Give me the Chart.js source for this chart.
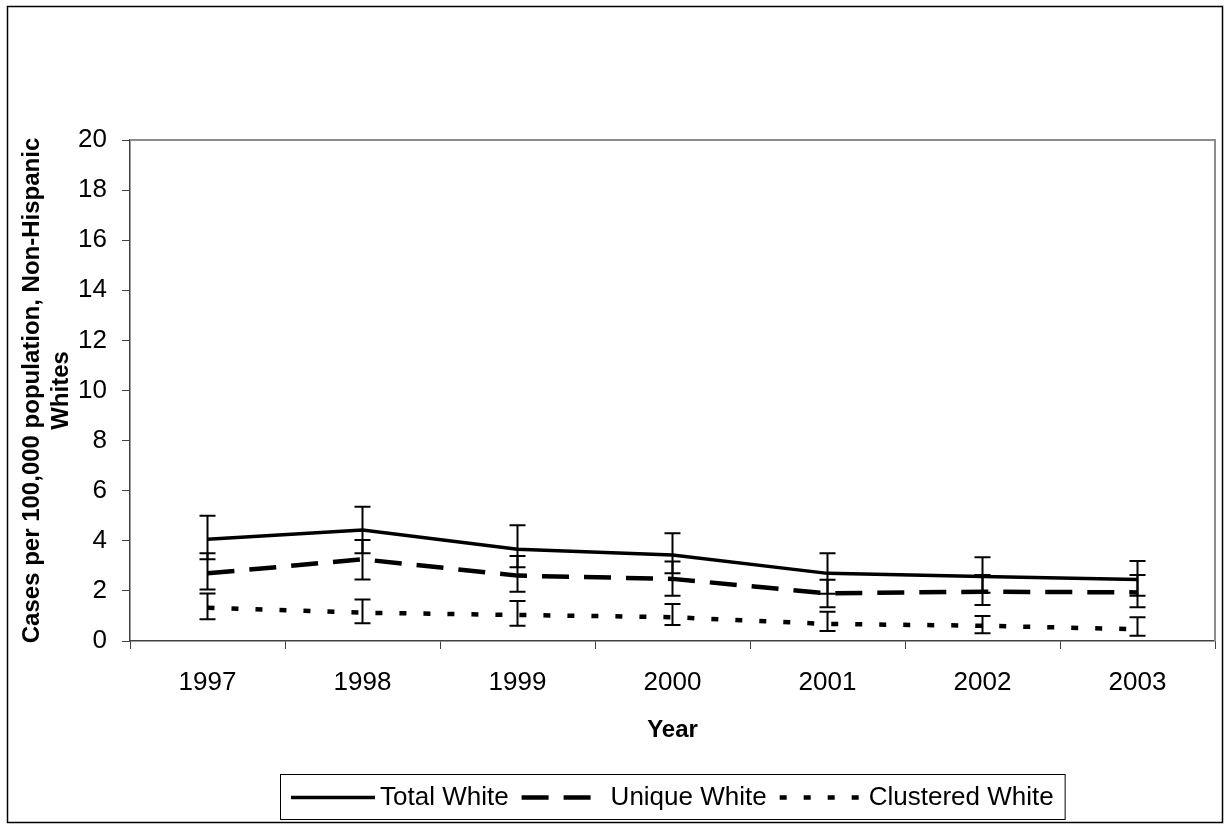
<!DOCTYPE html>
<html>
<head>
<meta charset="utf-8">
<script src="https://cdn.jsdelivr.net/npm/chart.js@4"></script>
<style>
  body { margin: 0; background: #fff; }
</style>
</head>
<body>
<canvas id="grafico" width="1228" height="825"></canvas>
<script>
// dados
const anos = ['1997', '1998', '1999', '2000', '2001', '2002', '2003'];
const totalWhite = [4.06, 4.43, 3.66, 3.43, 2.70, 2.57, 2.46];
const totalLow = [3.26, 3.50, 2.94, 2.70, 1.89, 1.93, 1.81];
const totalHigh = [5.00, 5.36, 4.62, 4.30, 3.50, 3.34, 3.19];
const uniqueWhite = [2.70, 3.26, 2.61, 2.48, 1.90, 1.97, 1.94];
const uniqueLow = [2.06, 2.46, 1.97, 1.81, 1.35, 1.44, 1.35];
const uniqueHigh = [3.50, 4.03, 3.39, 3.17, 2.45, 2.63, 2.63];
const clusteredWhite = [1.33, 1.13, 1.04, 0.95, 0.68, 0.61, 0.47];
const clusteredLow = [0.87, 0.71, 0.61, 0.64, 0.40, 0.31, 0.21];
const clusteredHigh = [1.90, 1.66, 1.60, 1.48, 1.17, 1.00, 0.95];
const yTicks = [0, 2, 4, 6, 8, 10, 12, 14, 16, 18, 20];

const fonte = 'Liberation Sans, Arial, sans-serif';

const fundoEBorda = {
    id: 'fundoEBorda',
    beforeDraw(chart) {
        const c = chart.ctx;
        c.save();
        c.fillStyle = '#fff';
        c.fillRect(0, 0, chart.width, chart.height);
        c.strokeStyle = '#000';
        c.lineWidth = 1.5;
        c.strokeRect(7.5, 6.5, 1215, 816);
        c.restore();
    },
    afterDraw(chart) {
        const c = chart.ctx;
        const a = chart.chartArea;
        c.save();
        // borda cinza do plot area (topo e direita)
        c.strokeStyle = '#8c8c8c';
        c.lineWidth = 2;
        c.beginPath();
        c.moveTo(a.left, a.top);
        c.lineTo(a.right, a.top);
        c.lineTo(a.right, a.bottom);
        c.stroke();

        // legenda
        const amostra = 84;
        c.font = '26px ' + fonte;
        c.textBaseline = 'middle';
        let larguras = chart.data.datasets.map(d => c.measureText(d.label).width);
        let total = 11 + 11;
        larguras.forEach((w, i) => { total += amostra + 5 + w + (i < larguras.length - 1 ? 13 : 0); });
        const bx = Math.round((a.left + a.right) / 2 - total / 2);
        const by = 774, bh = 45;
        c.strokeStyle = '#000';
        c.lineWidth = 1;
        c.setLineDash([]);
        c.strokeRect(bx + 0.5, by + 0.5, total, bh);
        let x = bx + 11;
        const cy = by + bh / 2 + 1;
        chart.data.datasets.forEach((d, i) => {
            c.strokeStyle = '#000';
            c.lineWidth = d.borderWidth;
            c.lineCap = 'butt';
            c.setLineDash(d.borderDash || []);
            c.beginPath();
            c.moveTo(x, cy);
            c.lineTo(x + amostra, cy);
            c.stroke();
            c.setLineDash([]);
            x += amostra + 5;
            c.fillStyle = '#000';
            c.fillText(d.label, x, cy);
            x += larguras[i] + 13;
        });
        c.restore();
    }
};

const barrasDeErro = {
    id: 'barrasDeErro',
    afterDatasetsDraw(chart) {
        const c = chart.ctx;
        const xs = chart.scales.x;
        const ys = chart.scales.y;
        c.save();
        c.strokeStyle = '#000';
        c.lineWidth = 2;
        c.setLineDash([]);
        chart.data.datasets.forEach(d => {
            for (let i = 0; i < d.data.length; i++) {
                const px = xs.getPixelForValue(i);
                const yl = ys.getPixelForValue(d.baixo[i]);
                const yh = ys.getPixelForValue(d.alto[i]);
                c.beginPath();
                c.moveTo(px, yl);
                c.lineTo(px, yh);
                c.moveTo(px - 8, yl);
                c.lineTo(px + 8, yl);
                c.moveTo(px - 8, yh);
                c.lineTo(px + 8, yh);
                c.stroke();
            }
        });
        c.restore();
    }
};

const ctx = document.getElementById('grafico');

var grafico = new Chart(ctx, {
    type: 'line',
    data: {
        labels: anos,
        datasets: [
            {
                label: 'Total White',
                data: totalWhite,
                baixo: totalLow,
                alto: totalHigh,
                borderColor: '#000',
                borderWidth: 3.5,
                pointRadius: 0,
                tension: 0
            },
            {
                label: 'Unique White',
                data: uniqueWhite,
                baixo: uniqueLow,
                alto: uniqueHigh,
                borderColor: '#000',
                borderWidth: 4.5,
                borderDash: [27, 15],
                borderCapStyle: 'butt',
                pointRadius: 0,
                tension: 0
            },
            {
                label: 'Clustered White',
                data: clusteredWhite,
                baixo: clusteredLow,
                alto: clusteredHigh,
                borderColor: '#000',
                borderWidth: 4.5,
                borderDash: [7, 17],
                borderCapStyle: 'butt',
                pointRadius: 0,
                tension: 0
            }
        ]
    },
    options: {
        responsive: false,
        devicePixelRatio: 1,
        animation: false,
        layout: {
            padding: { left: 0, right: 13, top: 140, bottom: 0 }
        },
        scales: {
            x: {
                offset: true,
                grid: {
                    offset: true,
                    drawOnChartArea: false,
                    color: '#404040',
                    tickLength: 8
                },
                border: { color: '#404040', width: 1.5 },
                ticks: {
                    color: '#000',
                    padding: 18,
                    font: { family: fonte, size: 26 }
                },
                title: {
                    display: true,
                    text: 'Year',
                    color: '#000',
                    font: { family: fonte, size: 24, weight: 'bold' },
                    padding: { top: 0, bottom: 80 }
                },
                afterFit(s) { s.height = 184; }
            },
            y: {
                min: 0,
                max: 20,
                afterBuildTicks(s) { s.ticks = yTicks.map(v => ({ value: v })); },
                grid: {
                    drawOnChartArea: false,
                    color: '#404040',
                    tickLength: 8
                },
                border: { color: '#404040', width: 1.5 },
                ticks: {
                    color: '#000',
                    padding: 15,
                    font: { family: fonte, size: 26 }
                },
                title: {
                    display: true,
                    text: ['Cases per 100,000 population, Non-Hispanic', 'Whites'],
                    color: '#000',
                    font: { family: fonte, size: 24, weight: 'bold' },
                    padding: { top: 18, bottom: 0 }
                },
                afterFit(s) { s.width = 130; }
            }
        },
        plugins: {
            legend: { display: false },
            tooltip: { enabled: false }
        }
    },
    plugins: [fundoEBorda, barrasDeErro]
});
</script>
</body>
</html>
